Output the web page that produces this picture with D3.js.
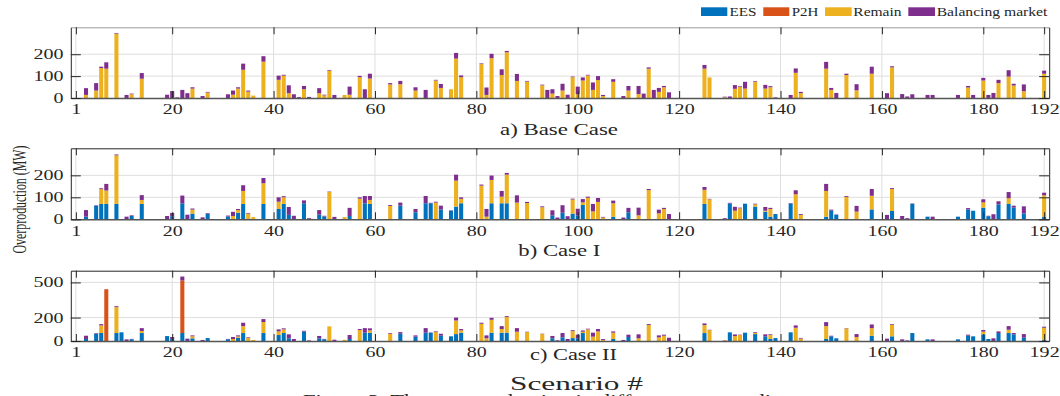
<!DOCTYPE html>
<html><head><meta charset="utf-8">
<script src="https://cdn.jsdelivr.net/npm/d3@7"></script>
<style>
body{margin:0;background:#fff}
svg{display:block}
text{font-family:"Liberation Serif","Times New Roman",serif;fill:#262626}
</style>
</head><body>
<svg id="chart" width="1060" height="396"></svg>
<script>
// ---------------- DATA ----------------
const seriesNames = ["EES", "P2H", "Remain", "Balancing market"];
const seriesColors = ["#0072BD", "#D95319", "#EDB120", "#7E2F8E"];
const xTickValues = [1, 20, 40, 60, 80, 100, 120, 140, 160, 180, 192];
const yTicksBase = [0, 100, 200];
const yTicksCase1 = [0, 100, 200];
const yTicksCase2 = [0, 200, 500];
const panelTitles = ["a) Base Case", "b) Case I", "c) Case II"];

// Base case (scenarios with overproduction)
const baseScn = [3,5,6,7,9, 11,12,14,19,20, 21,22,23,24,26, 27,31,32,33,34, 35,36,38,41,42,
  43,44,45,46,47, 49,50,51,52,54, 55,57,58,59,63, 65,68,70,72,73, 75,76,77,81,82,
  83,85,86,88,90, 93,94,95,96,97, 98,99,100,101,102, 103,104,105,107,109, 110,112,113,114,115,
  116,117,118,125,126, 129,130,131,132,133, 135,137,138,139,142, 143,144,149,150,151,
  153,155,158,161,162, 164,165,166,169,170, 175,177,178,180,181, 182,183,185,186,188, 192];
const baseRemain = [14,34,137,134,294, 0,17,88,0,0, 0,0,0,43,0, 25,0,15,43,129, 29,11,166,83,102,
  22,0,0,40,0, 22,12,125,0,14, 15,95,0,89,62, 63,34,0,80,46, 40,180,95,155,14,
  182,105,209,78,75, 58,0,20,0,34, 0,95,17,80,103, 37,82,9,74,0, 34,18,0,134,0,
  28,49,0,134,94, 3,0,42,52,43, 74,43,49,0,0, 115,22,134,37,0,
  105,35,111,0,140, 0,0,0,0,0, 0,48,0,80,0, 0,68,98,57,31, 111];
const baseBal = [31,34,6,29,3, 14,3,26,15,32, 3,37,22,6,9, 3,17,19,6,28, 5,0,25,19,4,
  36,17,4,15,5, 23,3,3,14,0, 37,6,40,22,6, 15,15,37,3,18, 0,26,8,3,34,
  20,26,6,32,3, 3,37,20,9,31, 15,3,35,14,3, 34,18,5,12,9, 21,37,20,6,37,
  18,6,26,17,0, 3,7,17,3,31, 3,17,5,3,14, 20,6,31,9,23,
  6,28,32,22,5, 18,7,17,14,14, 14,7,14,12,14, 23,15,29,8,31, 14];

// Case I
const c1Scn = [3,5,6,7,9, 11,12,14,19,20, 22,23,24,26,27, 31,32,33,34,35, 36,38,41,42,43,
  44,46,47,49,50, 51,52,54,55,57, 58,59,63,65,68, 70,71,72,73,75, 76,77,81,82,83,
  85,86,88,90,93, 95,96,97,98,99, 100,101,102,103,104, 105,107,109,110,112, 114,116,117,118,125,
  126,129,130,131,132, 133,135,137,138,139, 142,143,144,149,150, 151,153,155,158,161,
  162,164,165,166,169, 170,175,177,178,180, 181,182,183,185,186, 188,192];
const c1EES = [12,62,70,70,70, 0,15,70,0,14, 73,0,26,0,25, 13,0,30,70,0, 0,70,47,70,20,
  0,73,0,21,13, 0,0,0,15,0, 73,70,0,62,32, 73,73,0,45,39, 58,73,0,0,73,
  73,73,0,0,0, 18,0,30,0,26, 18,65,0,0,0, 0,12,0,32,0, 0,0,0,0,70,
  0,0,72,0,0, 71,58,35,12,24, 72,0,0,12,39, 20,0,0,45,0,
  38,0,0,70,12, 0,12,45,39,53, 14,0,68,70,53, 27,12];
const c1Remain = [0,0,67,61,221, 0,0,18,0,0, 0,0,18,0,0, 0,15,12,59,26, 10,94,33,30,0,
  0,0,0,0,0, 124,0,10,0,94, 0,18,61,0,0, 0,0,76,0,0, 118,20,153,12,106,
  30,130,76,74,55, 0,0,0,0,64, 0,12,98,36,79, 8,61,0,0,18, 133,27,47,0,64,
  91,0,0,39,50, 0,10,4,35,0, 0,114,20,117,0, 0,102,35,62,0,
  100,0,0,0,0, 0,0,0,0,24, 0,0,0,26,0, 0,97];
const c1Bal = [30,2,4,30,4, 12,3,22,15,15, 35,21,5,9,3, 4,19,5,26,3, 0,24,20,5,36,
  16,13,5,21,3, 2,11,0,37,6, 33,18,4,14,15, 33,2,4,17,2, 27,7,5,35,20,
  26,8,33,5,4, 23,8,34,14,4, 30,15,5,34,18, 3,12,8,20,35, 5,17,5,24,13,
  2,5,3,18,3, 0,3,17,5,0, 2,18,4,32,5, 2,4,26,31,20,
  4,15,5,2,0, 12,0,6,0,14, 2,23,14,28,9, 32,12];

// Case II
const c2Scn = [3,5,6,7,9, 10,11,12,14,19, 20,22,23,24,26, 27,31,32,33,34, 35,36,38,41,42,
  43,44,46,47,49, 50,51,52,54,55, 57,58,59,63,65, 68,70,71,72,73, 75,76,77,81,82,
  83,85,86,88,90, 93,95,96,97,98, 99,100,101,102,103, 104,105,107,109,110, 112,114,116,117,118,
  125,126,129,130,131, 132,133,135,137,138, 139,142,143,144,149, 150,151,153,155,158,
  161,162,164,165,166, 169,170,175,177,178, 180,181,182,183,185, 186,188,192];
const c2EES = [17,62,68,0,68, 74,0,15,68,42, 17,68,0,23,0, 25,15,0,28,68, 0,0,68,51,68,
  23,0,79,0,23, 15,0,0,0,17, 0,71,71,0,62, 37,71,71,0,45, 40,59,71,0,0,
  71,71,71,0,0, 0,23,0,31,0, 25,23,68,0,0, 0,0,17,0,34, 0,0,0,0,0,
  68,0,0,74,0, 0,71,59,40,17, 25,74,0,0,17, 40,23,0,0,45,
  0,40,0,0,68, 14,0,14,45,40, 57,17,0,68,68, 57,28,11];
const c2P2H = [0,0,0,442,0, 0,0,0,0,0, 0,448,0,0,0, 0,0,0,0,0, 0,0,0,0,0,
  0,0,0,0,0, 0,0,0,0,0, 0,0,0,0,0, 0,0,0,0,0, 0,0,0,0,0,
  0,0,0,0,0, 0,0,0,0,0, 0,0,0,0,0, 0,0,0,0,0, 0,0,0,0,0,
  0,0,5,0,0, 0,0,0,0,0, 0,0,0,0,0, 0,0,0,0,0,
  0,0,0,0,0, 0,0,0,0,0, 0,0,0,0,0, 0,0,0];
const c2Remain = [0,0,65,0,221, 0,0,0,17,0, 0,0,0,17,0, 0,0,17,11,59, 25,9,94,31,31,
  0,0,0,0,0, 0,125,0,10,0, 94,0,20,62,0, 0,0,0,76,0, 0,116,20,147,23,
  110,31,133,79,76, 59,0,0,0,0, 59,0,11,99,37, 82,9,54,0,0, 23,136,31,45,0,
  68,93,0,0,42, 51,0,11,0,34, 0,0,113,20,110, 0,0,107,34,65,
  0,99,0,0,0, 0,0,0,0,0, 23,0,0,0,28, 0,0,102];
const c2Bal = [28,5,11,0,8, 0,14,3,25,0, 17,34,20,8,9, 0,3,17,9,29, 6,0,25,17,9,
  34,17,8,5,20, 3,0,11,0,34, 8,39,17,6,14, 11,39,2,6,17, 0,25,11,9,25,
  17,25,8,31,3, 3,20,6,37,17, 8,31,11,6,34, 20,8,11,9,20, 34,8,17,9,28,
  14,3,0,0,14, 3,0,6,17,6, 0,0,20,6,34, 5,0,3,25,31,
  20,6,14,5,0, 0,14,0,9,0, 14,0,23,14,31, 11,31,9];

// ---------------- BUILD ----------------
function rowsFrom(scn, ees, p2h, rem, bal) {
  return scn.map((s, i) => ({
    s: s,
    "EES": ees ? ees[i] : 0,
    "P2H": p2h ? p2h[i] : 0,
    "Remain": rem[i],
    "Balancing market": bal[i]
  }));
}
const panelData = [
  rowsFrom(baseScn, null, null, baseRemain, baseBal),
  rowsFrom(c1Scn, c1EES, null, c1Remain, c1Bal),
  rowsFrom(c2Scn, c2EES, c2P2H, c2Remain, c2Bal)
];

const layout = [
  {top: 27.3, bottom: 98, max: 323, ticks: yTicksBase, topColor: "#9a9a9a",
   tx: 500, ty: 134.5, tw: 118, hideX: []},
  {top: 148.3, bottom: 219.3, max: 323, ticks: yTicksCase1, topColor: "#262626",
   tx: 518.3, ty: 255.5, tw: 82, hideX: []},
  {top: 270.7, bottom: 341, max: 600, ticks: yTicksCase2, topColor: "#262626",
   tx: 530, ty: 359.5, tw: 87, hideX: [100]}
];

const svg = d3.select("#chart");
const L = 70.8, R = 1049.2;
const x = d3.scaleLinear().domain([0, 193]).range([L, R]);
const bw = x(0.8) - x(0);
const color = d3.scaleOrdinal().domain(seriesNames).range(seriesColors);
const stack = d3.stack().keys(seriesNames);
const SX = 1.43;

layout.forEach((p, k) => {
  const y = d3.scaleLinear().domain([0, p.max]).range([p.bottom, p.top]);
  const g = svg.append("g");

  // grid
  g.append("g").selectAll("line").data(xTickValues).join("line")
    .attr("x1", d => x(d)).attr("x2", d => x(d))
    .attr("y1", p.top).attr("y2", p.bottom)
    .attr("stroke", "#dedede").attr("stroke-width", 1);
  g.append("g").selectAll("line").data(p.ticks.filter(d => d > 0)).join("line")
    .attr("x1", L).attr("x2", R)
    .attr("y1", d => y(d)).attr("y2", d => y(d))
    .attr("stroke", "#dedede").attr("stroke-width", 1);

  // bars
  const series = stack(panelData[k]);
  g.append("g").selectAll("g").data(series).join("g")
    .attr("fill", d => color(d.key))
    .selectAll("rect").data(d => d.filter(v => v[1] - v[0] > 0)).join("rect")
    .attr("x", d => x(d.data.s) - bw / 2)
    .attr("width", bw)
    .attr("y", d => y(d[1]))
    .attr("height", d => y(d[0]) - y(d[1]));

  // axes
  const xb = g.append("g").attr("transform", `translate(0,${p.bottom})`)
    .call(d3.axisBottom(x).tickValues(xTickValues).tickSizeInner(-7).tickSizeOuter(0).tickPadding(6.5));
  const xt = g.append("g").attr("transform", `translate(0,${p.top})`)
    .call(d3.axisTop(x).tickValues(xTickValues).tickSizeInner(-7).tickSizeOuter(0).tickFormat(""));
  const yl = g.append("g").attr("transform", `translate(${L},0)`)
    .call(d3.axisLeft(y).tickValues(p.ticks).tickSizeInner(-10).tickSizeOuter(0).tickPadding(7.4));
  const yr = g.append("g").attr("transform", `translate(${R},0)`)
    .call(d3.axisRight(y).tickValues(p.ticks).tickSizeInner(-10).tickSizeOuter(0).tickFormat(""));

  [xb, xt, yl, yr].forEach(a => {
    a.selectAll(".domain").attr("stroke", "#262626").attr("stroke-width", 1);
    a.selectAll(".tick line").attr("stroke", "#262626");
    a.selectAll("text").attr("fill", "#262626")
      .style("font-family", '"Liberation Serif","Times New Roman",serif')
      .style("font-size", "14px");
  });
  xt.select(".domain").attr("stroke", p.topColor);
  xb.select(".domain").attr("stroke", "#555").attr("stroke-width", 1.6);
  xb.selectAll("text").attr("transform", `scale(${SX},1)`);
  // the panel title covers this tick label in the reference
  xb.selectAll(".tick text").filter(d => p.hideX.includes(d)).remove();
  yl.selectAll("text").attr("x", -7.4 / SX).attr("transform", `scale(${SX},1)`);

  // panel title
  g.append("text").attr("x", p.tx).attr("y", p.ty)
    .attr("textLength", p.tw).attr("lengthAdjust", "spacingAndGlyphs")
    .style("font-size", "16.5px").text(panelTitles[k]);
});

// legend
const legendItems = [
  {sx: 701, sw: 26.3, tx: 729.5, tw: 27},
  {sx: 763.3, sw: 26, tx: 791.7, tw: 26.7},
  {sx: 825, sw: 26.7, tx: 853.3, tw: 48.3},
  {sx: 908.3, sw: 26.7, tx: 936.7, tw: 110.7}
];
const lg = svg.append("g");
seriesNames.forEach((n, i) => {
  const it = legendItems[i];
  lg.append("rect").attr("x", it.sx).attr("y", 7.3).attr("width", it.sw).attr("height", 8.7)
    .attr("fill", color(n));
  lg.append("text").attr("x", it.tx).attr("y", 15.7)
    .attr("textLength", it.tw).attr("lengthAdjust", "spacingAndGlyphs")
    .style("font-size", "11.5px").text(n);
});

// axis label
svg.append("text")
  .attr("transform", `translate(25.5,199.5) scale(1.3,1) rotate(-90)`)
  .attr("text-anchor", "middle")
  .attr("textLength", 108).attr("lengthAdjust", "spacingAndGlyphs")
  .style("font-size", "15px").text("Overproduction (MW)");

svg.append("text").attr("x", 510).attr("y", 389.5)
  .attr("textLength", 133).attr("lengthAdjust", "spacingAndGlyphs")
  .style("font-size", "18.5px").text("Scenario #");

svg.append("text").attr("x", 303).attr("y", 406)
  .attr("textLength", 487).attr("lengthAdjust", "spacingAndGlyphs")
  .style("font-size", "17px").text("Figure 3.  The overproduction in different case studies");
</script>
</body></html>
